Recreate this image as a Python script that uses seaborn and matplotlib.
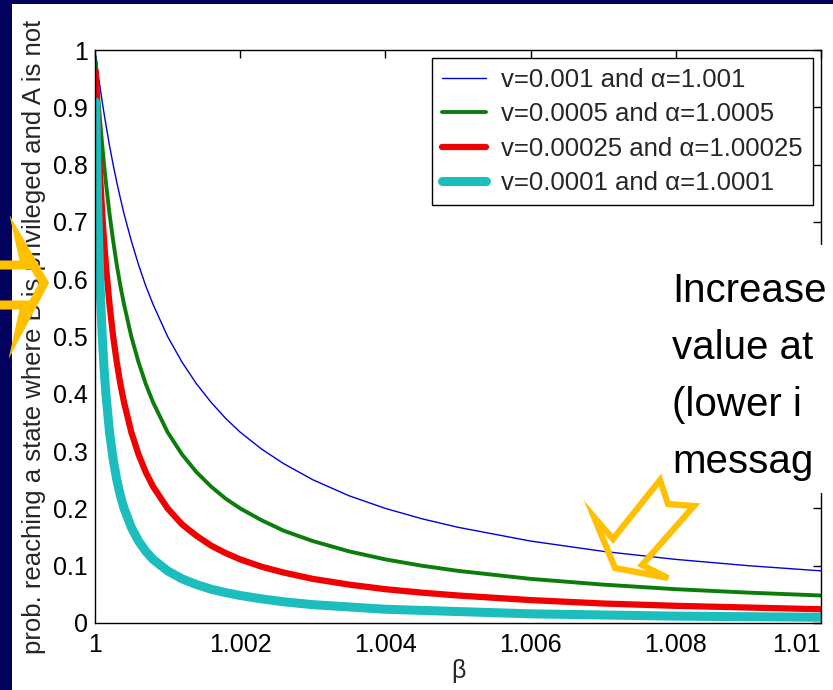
import numpy as np
import pandas as pd
import matplotlib
matplotlib.use("Agg")
import matplotlib.pyplot as plt
import seaborn as sns
from matplotlib.patches import Rectangle, Polygon

# ---- data ----
beta = [1.00001, 1.00002, 1.00003, 1.00004, 1.00005, 1.00007, 1.0001, 1.000125,
        1.00015, 1.0002, 1.00025, 1.0003, 1.00035, 1.0004, 1.0005, 1.0006, 1.0007,
        1.0008, 1.001, 1.0012, 1.0014, 1.0016, 1.0018, 1.002, 1.0023, 1.0026,
        1.003, 1.0035, 1.004, 1.0045, 1.005, 1.006, 1.007, 1.008, 1.009, 1.01]

prob_v001 = [0.990, 0.980, 0.971, 0.962, 0.952, 0.935, 0.909, 0.889, 0.870, 0.833,
             0.800, 0.769, 0.741, 0.714, 0.667, 0.625, 0.588, 0.556, 0.500, 0.455,
             0.417, 0.385, 0.357, 0.333, 0.303, 0.278, 0.250, 0.222, 0.200, 0.182,
             0.167, 0.143, 0.125, 0.111, 0.100, 0.091]
prob_v0005 = [0.980, 0.962, 0.943, 0.926, 0.909, 0.877, 0.833, 0.800, 0.769, 0.714,
              0.667, 0.625, 0.588, 0.556, 0.500, 0.455, 0.417, 0.385, 0.333, 0.294,
              0.263, 0.238, 0.217, 0.200, 0.179, 0.161, 0.143, 0.125, 0.111, 0.100,
              0.091, 0.077, 0.067, 0.059, 0.053, 0.048]
prob_v00025 = [0.962, 0.926, 0.893, 0.862, 0.833, 0.781, 0.714, 0.667, 0.625, 0.556,
               0.500, 0.455, 0.417, 0.385, 0.333, 0.294, 0.263, 0.238, 0.200, 0.172,
               0.152, 0.135, 0.122, 0.111, 0.098, 0.088, 0.077, 0.067, 0.059, 0.053,
               0.048, 0.040, 0.034, 0.030, 0.027, 0.024]
prob_v0001 = [0.909, 0.833, 0.769, 0.714, 0.667, 0.588, 0.500, 0.444, 0.400, 0.333,
              0.286, 0.250, 0.222, 0.200, 0.167, 0.143, 0.125, 0.111, 0.091, 0.077,
              0.067, 0.059, 0.053, 0.048, 0.042, 0.037, 0.032, 0.028, 0.024, 0.022,
              0.020, 0.016, 0.014, 0.012, 0.011, 0.010]

series_labels = ["v=0.001 and \u03b1=1.001",
                 "v=0.0005 and \u03b1=1.0005",
                 "v=0.00025 and \u03b1=1.00025",
                 "v=0.0001 and \u03b1=1.0001"]
series_colors = ["#0000D8", "#0B7D0B", "#F00000", "#1CBDBD"]
series_widths = [1.0, 2.8, 4.5, 6.5]

xticks = [1, 1.002, 1.004, 1.006, 1.008, 1.01]
xtick_labels = ["1", "1.002", "1.004", "1.006", "1.008", "1.01"]
yticks = [0, 0.1, 0.2, 0.3, 0.4, 0.5, 0.6, 0.7, 0.8, 0.9, 1]
ytick_labels = ["0", "0.1", "0.2", "0.3", "0.4", "0.5", "0.6", "0.7", "0.8", "0.9", "1"]

slide_lines = ["Increase", "value at", "(lower i", "messag"]

df = pd.concat([
    pd.DataFrame({"beta": beta, "prob": vals, "series": lab})
    for vals, lab in zip([prob_v001, prob_v0005, prob_v00025, prob_v0001], series_labels)
], ignore_index=True)

# ---- style ----
sns.set_style("white")
plt.rcParams["font.family"] = ["Liberation Sans", "DejaVu Sans"]

W, H = 833, 690
fig = plt.figure(figsize=(W / 100, H / 100), dpi=100, facecolor="#03035F")

def fx(px):
    return px / W

def fy(py):
    return (H - py) / H

# white slide panel
fig.add_artist(Rectangle((fx(12), 0), fx(W - 12), (H - 4) / H,
                         transform=fig.transFigure, facecolor="white",
                         edgecolor="none", zorder=-1))

ax = fig.add_axes([fx(95), fy(623), fx(821 - 95), (623 - 50) / H])

for lab, col, lw in zip(series_labels, series_colors, series_widths):
    sub = df[df["series"] == lab]
    sns.lineplot(data=sub, x="beta", y="prob", color=col, linewidth=lw,
                 label=lab, ax=ax, sort=False)

ax.set_xlim(1, 1.01)
ax.set_ylim(0, 1)
ax.set_xticks(xticks)
ax.set_xticklabels(xtick_labels)
ax.set_yticks(yticks)
ax.set_yticklabels(ytick_labels)
ax.tick_params(direction="in", length=6, width=1, colors="black",
               top=True, right=True, labelsize=18)
ax.tick_params(axis="x", pad=7)
ax.tick_params(axis="y", pad=5)
# last x label would run off the slide edge
ax.get_xticklabels()[-1].set_horizontalalignment("right")
for sp in ax.spines.values():
    sp.set_visible(True)
    sp.set_color("black")
    sp.set_linewidth(1.0)

ax.set_xlabel("\u03b2", fontsize=18)
ax.xaxis.set_label_coords(0.5, -0.062)
ax.set_ylabel("prob. reaching a state where B is privileged and A is not", fontsize=18.5)
ax.yaxis.set_label_coords(-0.068, 0.5)

leg = ax.legend(loc="upper right", fontsize=18.5, frameon=True, fancybox=False,
                edgecolor="black", framealpha=1, borderaxespad=0.3,
                handlelength=1.7, handletextpad=0.6, labelspacing=0.4,
                borderpad=0.4)
leg.get_frame().set_linewidth(1.0)

# white box behind the slide text
fig.add_artist(Rectangle((fx(665), fy(493)), fx(W - 665), (493 - 245) / H,
                         transform=fig.transFigure, facecolor="white",
                         edgecolor="none", zorder=2))
for i, line in enumerate(slide_lines):
    fig.text(fx(672), fy(302 + 57 * i), line, fontsize=29, color="black",
             family=["Liberation Sans"], va="baseline", ha="left", zorder=3)

# yellow outline arrows
gold = "#FFC000"
left_arrow = [(-30, 265), (25, 265), (20, 242), (44, 283), (20, 328), (25, 305), (-30, 305)]
diag_arrow = [(615, 568), (594, 517), (613, 539), (660, 480), (668, 504),
              (694, 506), (642, 565), (668, 578)]
for pts, lw in [(left_arrow, 6.5), (diag_arrow, 4.5)]:
    fig.add_artist(Polygon([(fx(x), fy(y)) for x, y in pts], closed=True,
                           transform=fig.transFigure, fill=False,
                           edgecolor=gold, linewidth=lw, joinstyle="miter",
                           zorder=5))

fig.savefig("out.png", dpi=100, facecolor=fig.get_facecolor())
